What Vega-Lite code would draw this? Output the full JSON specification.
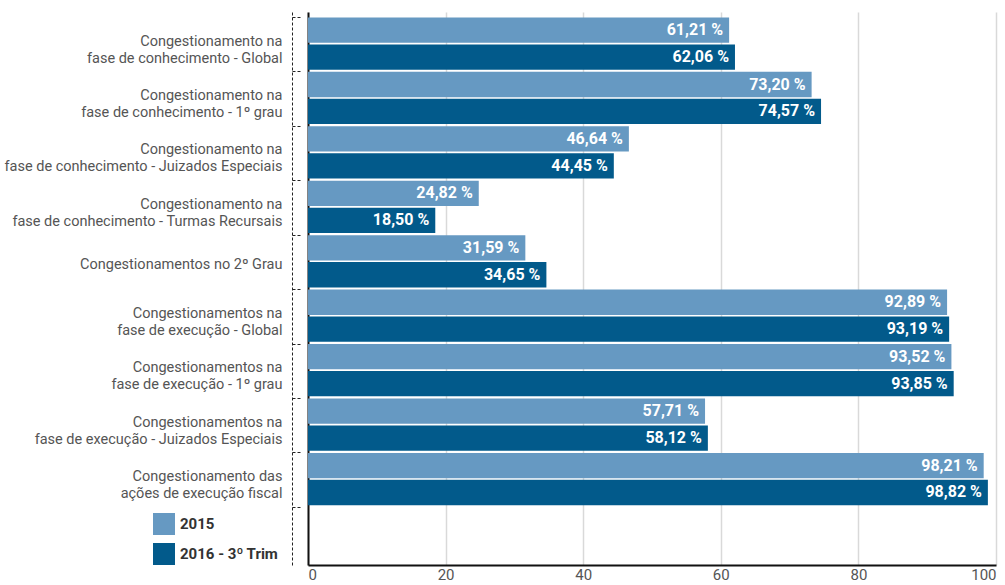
{
  "$schema": "https://vega.github.io/schema/vega-lite/v6.json",
  "width": 688,
  "height": 553,
  "autosize": "none",
  "padding": {"left": 308, "top": 12, "right": 9, "bottom": 20},
  "background": "#ffffff",
  "config": {
    "font": "Roboto, sans-serif",
    "view": {"stroke": null}
  },
  "data": {
    "values": [
      {"cat": "Congestionamento na|fase de conhecimento - Global", "serie": "2015", "v": 61.21},
      {"cat": "Congestionamento na|fase de conhecimento - Global", "serie": "2016 - 3º Trim", "v": 62.06},
      {"cat": "Congestionamento na|fase de conhecimento - 1º grau", "serie": "2015", "v": 73.20},
      {"cat": "Congestionamento na|fase de conhecimento - 1º grau", "serie": "2016 - 3º Trim", "v": 74.57},
      {"cat": "Congestionamento na|fase de conhecimento - Juizados Especiais", "serie": "2015", "v": 46.64},
      {"cat": "Congestionamento na|fase de conhecimento - Juizados Especiais", "serie": "2016 - 3º Trim", "v": 44.45},
      {"cat": "Congestionamento na|fase de conhecimento - Turmas Recursais", "serie": "2015", "v": 24.82},
      {"cat": "Congestionamento na|fase de conhecimento - Turmas Recursais", "serie": "2016 - 3º Trim", "v": 18.50},
      {"cat": "Congestionamentos no 2º Grau", "serie": "2015", "v": 31.59},
      {"cat": "Congestionamentos no 2º Grau", "serie": "2016 - 3º Trim", "v": 34.65},
      {"cat": "Congestionamentos na|fase de execução - Global", "serie": "2015", "v": 92.89},
      {"cat": "Congestionamentos na|fase de execução - Global", "serie": "2016 - 3º Trim", "v": 93.19},
      {"cat": "Congestionamentos na|fase de execução - 1º grau", "serie": "2015", "v": 93.52},
      {"cat": "Congestionamentos na|fase de execução - 1º grau", "serie": "2016 - 3º Trim", "v": 93.85},
      {"cat": "Congestionamentos na|fase de execução - Juizados Especiais", "serie": "2015", "v": 57.71},
      {"cat": "Congestionamentos na|fase de execução - Juizados Especiais", "serie": "2016 - 3º Trim", "v": 58.12},
      {"cat": "Congestionamento das|ações de execução fiscal", "serie": "2015", "v": 98.21},
      {"cat": "Congestionamento das|ações de execução fiscal", "serie": "2016 - 3º Trim", "v": 98.82}
    ]
  },
  "transform": [
    {"calculate": "replace(format(datum.v, '.2f'), '.', ',') + ' %'", "as": "lbl"}
  ],
  "layer": [
    {
      "mark": {"type": "bar"},
      "encoding": {
        "y": {
          "field": "cat", "type": "nominal",
          "scale": {
            "domain": [
              "Congestionamento na|fase de conhecimento - Global",
              "Congestionamento na|fase de conhecimento - 1º grau",
              "Congestionamento na|fase de conhecimento - Juizados Especiais",
              "Congestionamento na|fase de conhecimento - Turmas Recursais",
              "Congestionamentos no 2º Grau",
              "Congestionamentos na|fase de execução - Global",
              "Congestionamentos na|fase de execução - 1º grau",
              "Congestionamentos na|fase de execução - Juizados Especiais",
              "Congestionamento das|ações de execução fiscal",
              " "
            ],
            "paddingInner": 0.04,
            "paddingOuter": 0.1
          },
          "axis": {
            "title": null,
            "ticks": false,
            "domainColor": "#111111",
            "domainWidth": 2,
            "labelFontSize": 14.5,
            "labelColor": "#555555",
            "labelPadding": 26,
            "labelLineHeight": 17,
            "labelLimit": 0,
            "labelOffset": {"condition": {"test": "indexof(datum.value, '|') < 0", "value": 4}, "value": -2},
            "labelExpr": "datum.value == ' ' ? '' : split(datum.value, '|')"
          }
        },
        "yOffset": {
          "field": "serie", "type": "nominal",
          "scale": {"domain": ["2015", "2016 - 3º Trim"], "paddingInner": 0.06}
        },
        "x": {
          "field": "v", "type": "quantitative",
          "scale": {"domain": [0, 100], "nice": false},
          "axis": {
            "title": null,
            "values": [0, 20, 40, 60, 80, 100],
            "grid": true,
            "gridColor": "#d9d9d9",
            "gridWidth": 1.5,
            "domainColor": "#111111",
            "domainWidth": 2,
            "ticks": false,
            "labelFontSize": 15,
            "labelColor": "#555555",
            "labelPadding": 2
          }
        },
        "color": {
          "field": "serie", "type": "nominal",
          "scale": {"domain": ["2015", "2016 - 3º Trim"], "range": ["#6699c2", "#025a8b"]},
          "legend": {
            "orient": "none",
            "legendX": -155,
            "legendY": 501,
            "title": null,
            "symbolType": "square",
            "symbolSize": 484,
            "symbolStrokeWidth": 0,
            "symbolOpacity": 1,
            "labelFontSize": 15,
            "labelFontWeight": "bold",
            "labelColor": "#333333",
            "rowPadding": 8,
            "labelOffset": 5,
            "padding": 0
          }
        }
      }
    },
    {
      "mark": {"type": "text", "align": "right", "baseline": "middle", "dx": -6, "color": "#ffffff", "fontWeight": "bold", "fontSize": 16},
      "encoding": {
        "y": {
          "field": "cat", "type": "nominal",
          "axis": {
            "title": null,
            "orient": "left",
            "labels": false,
            "offset": 16,
            "domainDash": [3, 2],
            "domainColor": "#222222",
            "domainWidth": 1,
            "ticks": true,
            "tickSize": -8,
            "tickDash": [3, 2],
            "tickColor": "#222222",
            "tickWidth": 1,
            "bandPosition": 0,
            "grid": false
          }
        },
        "yOffset": {"field": "serie", "type": "nominal"},
        "x": {"field": "v", "type": "quantitative"},
        "text": {"field": "lbl"}
      }
    }
  ],
  "resolve": {"axis": {"y": "independent"}}
}
